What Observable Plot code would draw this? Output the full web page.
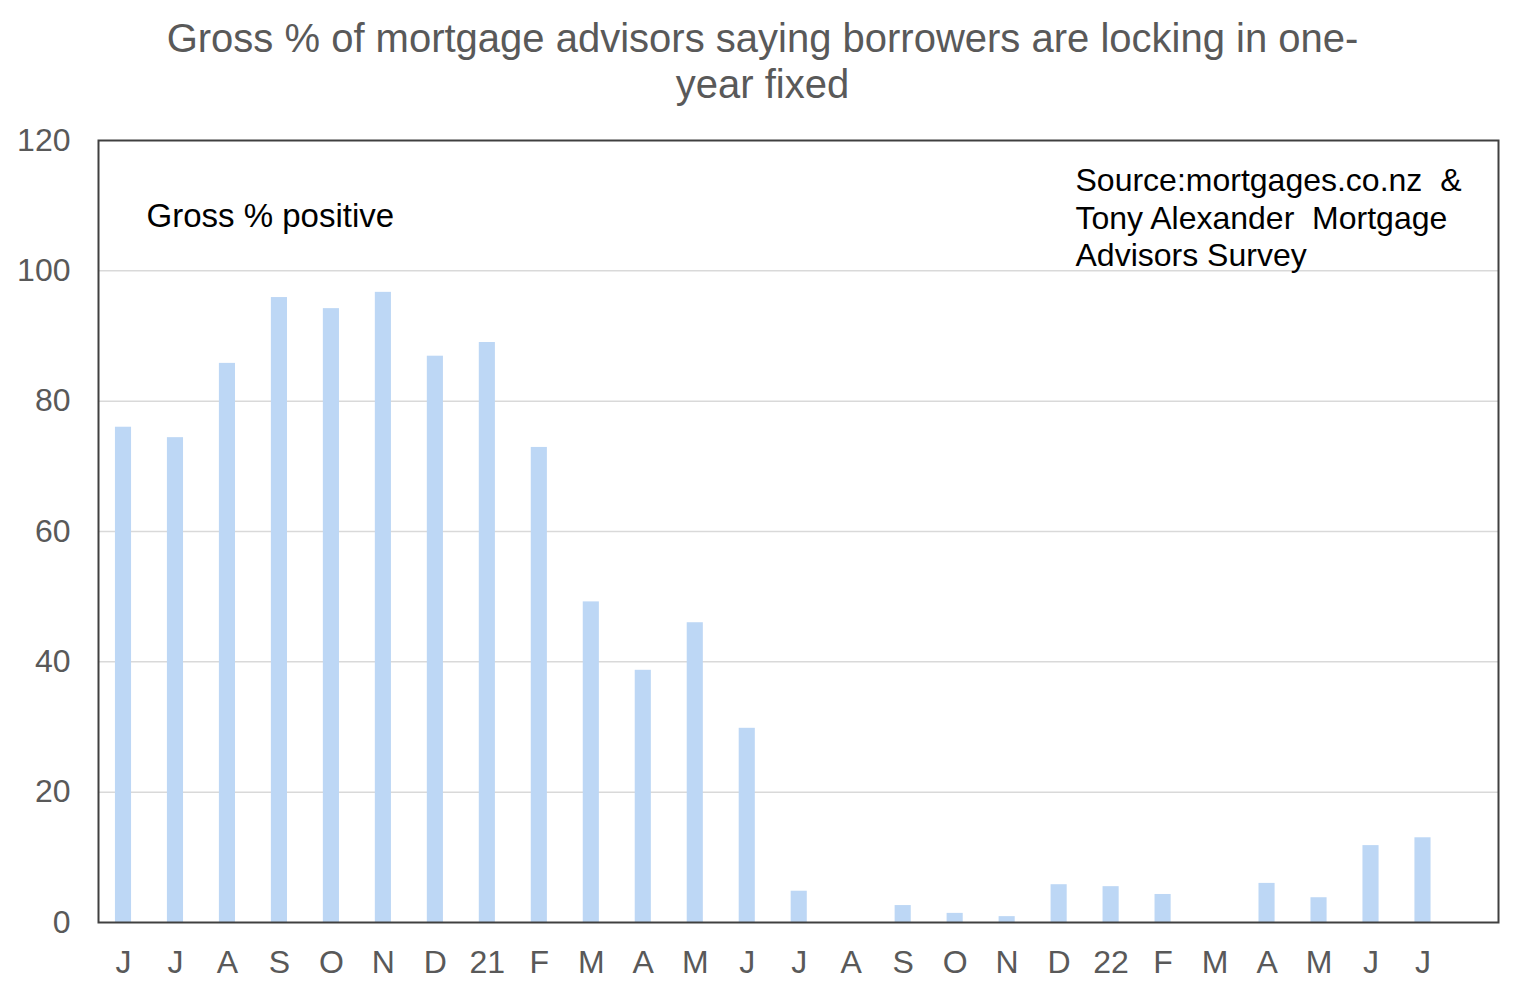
<!DOCTYPE html>
<html><head><meta charset="utf-8">
<script src="https://cdn.jsdelivr.net/npm/d3@7"></script>
<script src="https://cdn.jsdelivr.net/npm/@observablehq/plot@0.6"></script>
<style>
body{margin:0;background:#fff;}
#wrap{position:relative;width:1525px;height:995px;font-family:"Liberation Sans",Arial,sans-serif;overflow:hidden;background:#fff;}
#title{position:absolute;left:0;top:15px;width:1525px;text-align:center;font-size:40px;line-height:46px;color:#595959;z-index:2;}
#chart{position:absolute;left:0;top:100px;z-index:1;}
</style></head><body>
<div id="wrap">
<div id="title">Gross % of mortgage advisors saying borrowers are locking in one-<br>year fixed</div>
<div id="chart"></div>
</div>
<script>
const monthLabels = ["J","J","A","S","O","N","D","21","F","M","A","M","J","J","A","S","O","N","D","22","F","M","A","M","J","J"];
const grossPositive = [76,74.4,85.8,95.9,94.2,96.7,86.9,89,72.9,49.2,38.7,46,29.8,4.8,0,2.6,1.4,0.9,5.8,5.5,4.3,0,6,3.8,11.8,13];
const yTicks = [0,20,40,60,80,100,120];
const gridValues = [20,40,60,80,100];
const annotationText = "Gross % positive";
const sourceText = "Source:mortgages.co.nz\u00a0 &\nTony Alexander\u00a0 Mortgage\nAdvisors Survey";

const data = monthLabels.map((m, i) => ({i, label: m, value: grossPositive[i]}));
const idx = d3.range(monthLabels.length);

const chart = Plot.plot({
  width: 1525,
  height: 895,
  marginLeft: 98,
  marginRight: 27,
  marginTop: 40,
  marginBottom: 73,
  style: {fontFamily: '"Liberation Sans", Arial, sans-serif', background: "transparent"},
  x: {type: "band", domain: idx, range: [97, 97 + 26 * 51.98], round: false, paddingInner: 0.69, paddingOuter: 0.345, align: 0.5},
  y: {domain: [0, 120]},
  marks: [
    Plot.ruleY(gridValues, {stroke: "#d9d9d9", strokeWidth: 1.5}),
    Plot.barY(data, {x: "i", y: "value", fill: "#BDD7F5"}),
    Plot.frame({stroke: "#404040", strokeWidth: 2}),
    Plot.axisY({ticks: yTicks, tickSize: 0, tickPadding: 28, fontSize: 32, fill: "#595959", label: null}),
    Plot.axisX({ticks: idx, tickSize: 0, tickPadding: 28, fontSize: 32, fill: "#595959", label: null, tickFormat: i => monthLabels[i]}),
    Plot.text([annotationText], {frameAnchor: "top-left", textAnchor: "start", lineAnchor: "top", dx: 48, dy: 63, fontSize: 33, fill: "#000"}),
    Plot.text([sourceText], {frameAnchor: "top-left", textAnchor: "start", lineAnchor: "top", dx: 977, dy: 24, fontSize: 32, lineHeight: 1.17, fill: "#000"})
  ]
});
document.getElementById("chart").appendChild(chart);
</script>
</body></html>
